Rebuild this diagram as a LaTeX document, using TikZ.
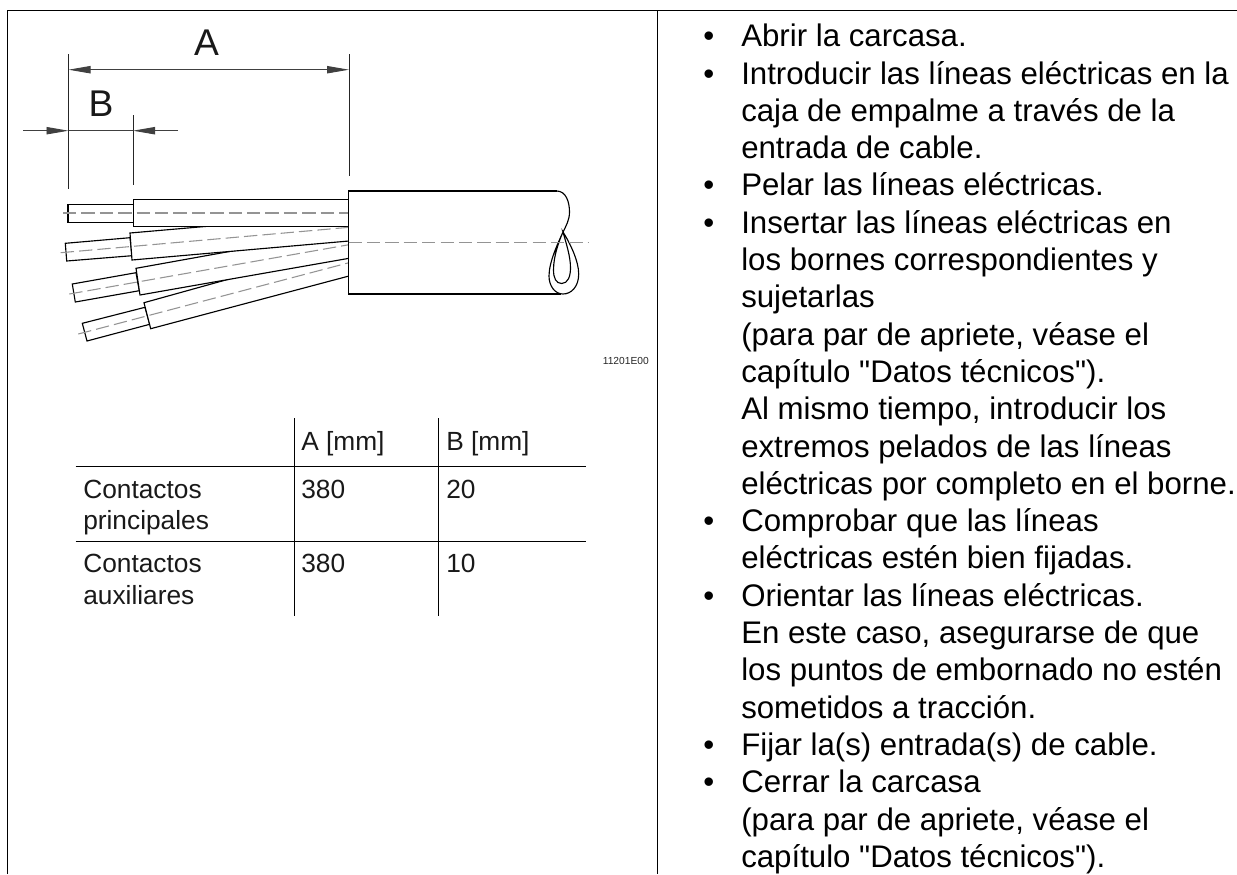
\documentclass[tikz,border=0pt]{standalone}
\usepackage{fontspec}
\setmainfont{Liberation Sans}
\newfontfamily\plainfont{Liberation Sans}
\usetikzlibrary{arrows.meta}
\tikzset{
 outline/.style={line width=0.85bp,draw=black},
 wire/.style={line width=0.85bp,draw=black,fill=white},
 center line/.style={line width=0.8bp,draw=black!42,dash pattern=on 10bp off 3.8bp},
 dim/.style={line width=0.7bp,draw=black!75},
 tip/.style={-{Triangle[length=16.5bp,width=5.5bp]}},
 ext/.style={line width=0.6bp,draw=black!85},
 grid/.style={line width=0.65bp,draw=black},
 cell/.style={inner sep=0pt,anchor=base west,font=\fontsize{19.8}{24}\selectfont,text=black!90,align=left},
 body/.style={inner sep=0pt,anchor=base west,font=\fontsize{23.5}{28}\selectfont,text=black},
 big/.style={inner sep=0pt,anchor=base,font=\fontsize{28}{30}\selectfont,text=black!90},
}
\newcommand{\dq}{{\plainfont"}}
\begin{document}
\begin{tikzpicture}[x=0.75bp,y=-0.75bp]
\useasboundingbox (0,0) rectangle (1237,874);
% frame
\coordinate (TL) at (7.5,10.5); \coordinate (TR) at (1237,10.5);
\coordinate (BL) at (7.5,874); \coordinate (MT) at (657.5,10.5); \coordinate (MB) at (657.5,874);
\draw[outline] (BL) -- (TL) -- (TR);
\draw[outline] (MT) -- (MB);
% dimensions
\coordinate (e1t) at (68.5,54); \coordinate (e1b) at (68.5,189);
\coordinate (e2t) at (133,115); \coordinate (e2b) at (133,184.5);
\coordinate (e3t) at (349,54); \coordinate (e3b) at (349,176);
\coordinate (aL) at (68.5,69.7); \coordinate (aR) at (349,69.7);
\coordinate (bL0) at (23,130.7); \coordinate (bL) at (68.5,130.7);
\coordinate (bR) at (133,130.7); \coordinate (bR0) at (178,130.7);
\draw[ext] (e1t) -- (e1b); \draw[ext] (e2t) -- (e2b); \draw[ext] (e3t) -- (e3b);
\draw[dim,{Triangle[length=16.5bp,width=5.5bp]}-{Triangle[length=16.5bp,width=5.5bp]}] (aL) -- (aR);
\draw[dim] (bL) -- (bR);
\draw[dim,tip] (bL0) -- (bL);
\draw[dim,tip] (bR0) -- (bR);
\node[big] (labA) at (206.5,55) {A};
\node[big] (labB) at (101,116) {B};
% wire 4
\draw[wire] (82.3,323.3) -- (145,307.3) -- (149.7,324.3) -- (87,341) -- cycle;
\draw[wire] (144,302.7) -- (349,245.7) -- (349,276) -- (150.7,328.7) -- cycle;
% wire 3
\draw[wire] (72.3,284) -- (136,272.7) -- (139.3,290.7) -- (75.3,302) -- cycle;
\draw[wire] (136,268.3) -- (349,230) -- (349,258.3) -- (140,295) -- cycle;
% wire 2
\draw[wire] (65.3,243.3) -- (130,237.7) -- (132,255.7) -- (66.7,261) -- cycle;
\draw[wire] (130,233) -- (349,214) -- (349,241) -- (132,260) -- cycle;
% wire 1
\draw[wire] (68,204.4) rectangle (133.3,222.3);
\draw[wire] (133.3,199.7) rectangle (349,226.7);
% centre lines
\draw[center line] (63,213) -- (349,213);
\draw[center line] (60.7,252.7) -- (349,227.3);
\draw[center line] (69.3,294) -- (349,244.7);
\draw[center line] (78.3,334) -- (349,262.7);
% jacket
\coordinate (J1) at (348.5,191); \coordinate (J2) at (556.7,191);
\coordinate (J3) at (561,294); \coordinate (J4) at (348.5,294);
\draw[outline,fill=white] (J2) -- (J1) -- (J4) -- (J3);
\draw[outline] (J2) .. controls (566,191) and (569.5,202) .. (569.5,212)
  .. controls (569.5,220) and (566,226) .. (563,232)
  .. controls (559,241) and (553.5,256) .. (553.5,270)
  .. controls (553.5,278) and (556,283.5) .. (561.7,283.5)
  .. controls (568,283.5) and (570.5,276) .. (570.5,268)
  .. controls (570.5,256) and (566,243) .. (563,232)
  .. controls (570,243) and (578.7,261) .. (578.7,274)
  .. controls (578.7,287) and (571,294) .. (563,294)
  .. controls (555,294) and (549,286) .. (549,276)
  .. controls (549,262) and (558,243) .. (563,232);
\draw[center line] (348.5,242.5) -- (588,242.5);
\node[inner sep=0pt,anchor=base east,font=\fontsize{7.7}{9}\selectfont,text=black!85] (code) at (649,364) {11201E00};
% table
\coordinate (h1l) at (75.5,466.5); \coordinate (h1r) at (586,466.5);
\coordinate (h2l) at (75.5,541.3); \coordinate (h2r) at (586,541.3);
\coordinate (v1t) at (294.5,418); \coordinate (v1b) at (294.5,615.7);
\coordinate (v2t) at (438.5,418); \coordinate (v2b) at (438.5,615.7);
\draw[grid] (h1l) -- (h1r); \draw[grid] (h2l) -- (h2r);
\draw[grid] (v1t) -- (v1b); \draw[grid] (v2t) -- (v2b);
\node[cell] (ha) at (301,450) {A [mm]};
\node[cell] (hb) at (446,450) {B [mm]};
\node[cell] (c1a) at (83,498) {Contactos};
\node[cell] (c1b) at (83,529) {principales};
\node[cell] (c2a) at (83,572.7) {Contactos};
\node[cell] (c2b) at (83,604) {auxiliares};
\node[cell] (v11) at (301,498) {380};
\node[cell] (v12) at (446,498) {20};
\node[cell] (v21) at (301,572.7) {380};
\node[cell] (v22) at (446,572.7) {10};
% text
\foreach \n/\t/\b in {
 0/{Abrir la carcasa.}/1,
 1/{Introducir las líneas eléctricas en la}/1,
 2/{caja de empalme a través de la}/0,
 3/{entrada de cable.}/0,
 4/{Pelar las líneas eléctricas.}/1,
 5/{Insertar las líneas eléctricas en}/1,
 6/{los bornes correspondientes y}/0,
 7/{sujetarlas}/0,
 8/{(para par de apriete, véase el}/0,
 9/{capítulo \dq Datos técnicos\dq).}/0,
 10/{Al mismo tiempo, introducir los}/0,
 11/{extremos pelados de las líneas}/0,
 12/{eléctricas por completo en el borne.}/0,
 13/{Comprobar que las líneas}/1,
 14/{eléctricas estén bien fijadas.}/0,
 15/{Orientar las líneas eléctricas.}/1,
 16/{En este caso, asegurarse de que}/0,
 17/{los puntos de embornado no estén}/0,
 18/{sometidos a tracción.}/0,
 19/{Fijar la(s) entrada(s) de cable.}/1,
 20/{Cerrar la carcasa}/1,
 21/{(para par de apriete, véase el}/0,
 22/{capítulo \dq Datos técnicos\dq).}/0}{
 \node[body] (t\n) at (741,{46.7+37.3*\n}) {\t};
 \ifnum\b=1 \node[body] (bul\n) at (703,{46.7+37.3*\n}) {•};\fi
}
\end{tikzpicture}
\end{document}
